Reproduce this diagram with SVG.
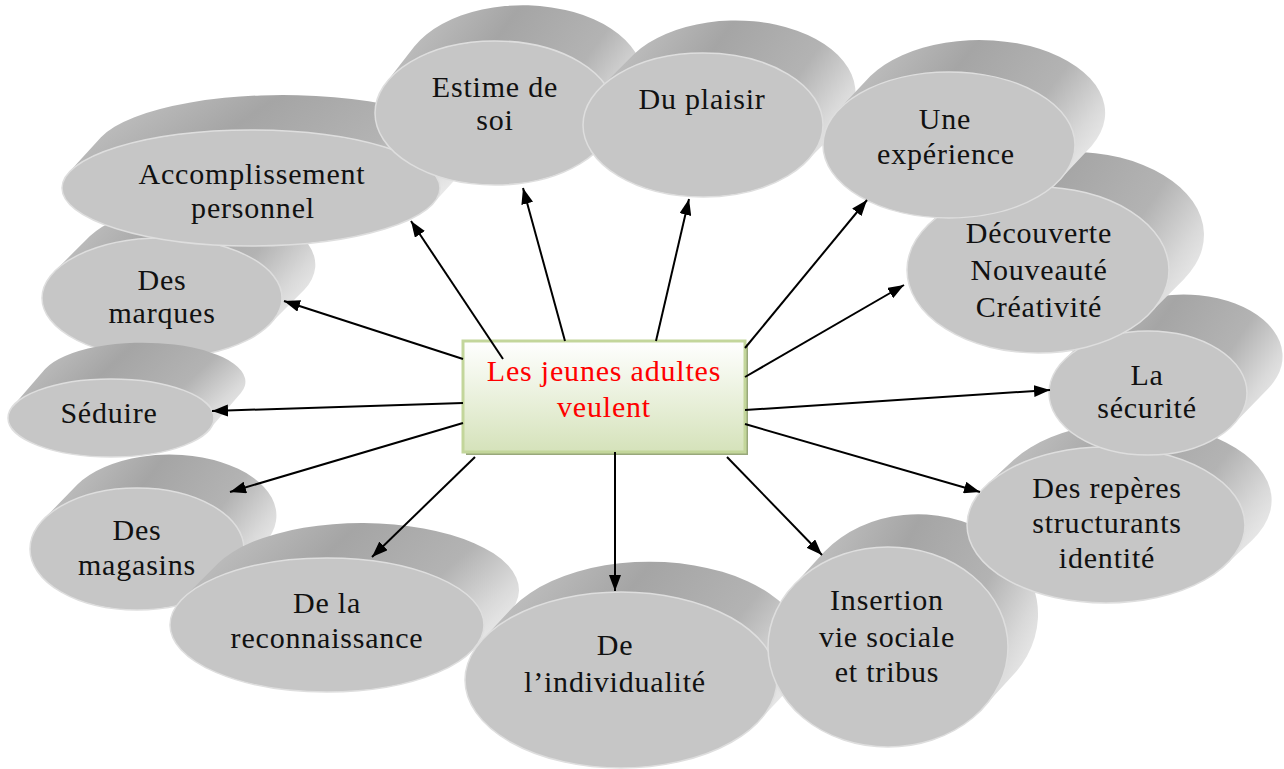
<svg xmlns="http://www.w3.org/2000/svg" width="1284" height="769" viewBox="0 0 1284 769">
<defs>
<linearGradient id="side" x1="0" y1="0.3" x2="1" y2="0.7">
<stop offset="0" stop-color="#c2c2c2"/>
<stop offset="0.35" stop-color="#a5a5a5"/>
<stop offset="0.7" stop-color="#b3b3b3"/>
<stop offset="0.9" stop-color="#d9d9d9"/>
<stop offset="1" stop-color="#e8e8e8"/>
</linearGradient>
<linearGradient id="boxg" x1="0" y1="0" x2="0" y2="1">
<stop offset="0" stop-color="#ffffff"/>
<stop offset="0.6" stop-color="#e6eed6"/>
<stop offset="1" stop-color="#d5e2ba"/>
</linearGradient>
<marker id="ah" viewBox="0 0 8 6" markerWidth="8" markerHeight="6" refX="8" refY="3" orient="auto" markerUnits="strokeWidth">
<path d="M0,0 L8,3 L0,6 Z" fill="#000"/>
</marker>
</defs>
<style>
.side{fill:url(#side);}
.front{fill:#c6c6c6;stroke:#dedede;stroke-width:1.5;}
.lbl{font-family:"Liberation Serif","DejaVu Serif",serif;font-size:30px;letter-spacing:0.8px;fill:#111;text-anchor:middle;}
.ctr{font-family:"Liberation Serif","DejaVu Serif",serif;font-size:30px;letter-spacing:0.8px;fill:#ff0000;text-anchor:middle;}
.conn{stroke:#000;stroke-width:2;fill:none;marker-end:url(#ah);}
</style>
<rect width="1284" height="769" fill="#ffffff"/>

<g id="node-marques">
<path class="side" d="M54.7,271.2 L89.7,236.2 A120,60 0 0 1 304.3,289.8 L269.3,324.8 A120,60 0 0 0 54.7,271.2 Z"/>
<ellipse class="front" cx="162" cy="298" rx="120" ry="60"/>
<text class="lbl" x="162" y="290">Des</text>
<text class="lbl" x="162" y="323">marques</text>
</g>

<g id="node-seduire">
<path class="side" d="M13.1,405.9 L45.1,368.9 A103,39 0 0 1 240.9,393.1 L208.9,430.1 A103,39 0 0 0 13.1,405.9 Z"/>
<ellipse class="front" cx="111" cy="418" rx="103" ry="39"/>
<text class="lbl" x="109" y="423">Séduire</text>
</g>

<g id="node-magasins">
<path class="side" d="M43.4,519.5 L77.4,484.5 A107,61 0 0 1 264.6,543.5 L230.6,578.5 A107,61 0 0 0 43.4,519.5 Z"/>
<ellipse class="front" cx="137" cy="549" rx="107" ry="61"/>
<text class="lbl" x="137" y="540">Des</text>
<text class="lbl" x="137" y="575">magasins</text>
</g>

<g id="node-reconnaissance">
<path class="side" d="M182.6,598.7 L217.6,563.7 A157,67 0 0 1 506.4,616.3 L471.4,651.3 A157,67 0 0 0 182.6,598.7 Z"/>
<ellipse class="front" cx="327" cy="625" rx="157" ry="67"/>
<text class="lbl" x="327" y="613">De la</text>
<text class="lbl" x="327" y="648">reconnaissance</text>
</g>

<g id="node-individualite">
<path class="side" d="M483.1,638.9 L513.1,606.9 A156,88 0 0 1 788.9,689.1 L758.9,721.1 A156,88 0 0 0 483.1,638.9 Z"/>
<ellipse class="front" cx="621" cy="680" rx="156" ry="88"/>
<text class="lbl" x="615" y="655">De</text>
<text class="lbl" x="615" y="692">l’individualité</text>
</g>

<g id="node-insertion">
<path class="side" d="M792.6,586.4 L824.6,551.4 A120,100 0 0 1 1015.4,672.6 L983.4,707.6 A120,100 0 0 0 792.6,586.4 Z"/>
<ellipse class="front" cx="888" cy="647" rx="120" ry="100"/>
<text class="lbl" x="887" y="610">Insertion</text>
<text class="lbl" x="887" y="647">vie sociale</text>
<text class="lbl" x="887" y="682">et tribus</text>
</g>

<g id="node-reperes">
<path class="side" d="M987.1,484.6 L1014.1,459.6 A139,78 0 0 1 1251.9,540.4 L1224.9,565.4 A139,78 0 0 0 987.1,484.6 Z"/>
<ellipse class="front" cx="1106" cy="525" rx="139" ry="78"/>
<text class="lbl" x="1107" y="498">Des repères</text>
<text class="lbl" x="1107" y="533">structurants</text>
<text class="lbl" x="1107" y="568">identité</text>
</g>

<g id="node-securite">
<path class="side" d="M1063.5,360.7 L1099.5,323.7 A99,62 0 0 1 1268.5,388.3 L1232.5,425.3 A99,62 0 0 0 1063.5,360.7 Z"/>
<ellipse class="front" cx="1148" cy="393" rx="99" ry="62"/>
<text class="lbl" x="1147" y="385">La</text>
<text class="lbl" x="1147" y="418">sécurité</text>
</g>

<g id="node-decouverte">
<path class="side" d="M927.3,225.6 L962.3,190.6 A131,83 0 0 1 1183.7,279.4 L1148.7,314.4 A131,83 0 0 0 927.3,225.6 Z"/>
<ellipse class="front" cx="1038" cy="270" rx="131" ry="83"/>
<text class="lbl" x="1039" y="243">Découverte</text>
<text class="lbl" x="1039" y="280">Nouveauté</text>
<text class="lbl" x="1039" y="317">Créativité</text>
</g>

<g id="node-accomplissement">
<path class="side" d="M69,172.3 L101,137.3 A189,58 0 0 1 465,168.7 L433,203.7 A189,58 0 0 0 69,172.3 Z"/>
<ellipse class="front" cx="251" cy="188" rx="189" ry="58"/>
<text class="lbl" x="252" y="184">Accomplissement</text>
<text class="lbl" x="253" y="218">personnel</text>
</g>

<g id="node-estime">
<path class="side" d="M386.3,82.5 L414.3,46.5 A120,72 0 0 1 631.7,107.5 L603.7,143.5 A120,72 0 0 0 386.3,82.5 Z"/>
<ellipse class="front" cx="495" cy="113" rx="120" ry="72"/>
<text class="lbl" x="495" y="97">Estime de</text>
<text class="lbl" x="495" y="130">soi</text>
</g>

<g id="node-plaisir">
<path class="side" d="M600.1,88 L634.1,54 A120,72 0 0 1 839.9,128 L805.9,162 A120,72 0 0 0 600.1,88 Z"/>
<ellipse class="front" cx="703" cy="125" rx="120" ry="72"/>
<text class="lbl" x="702" y="109">Du plaisir</text>
</g>

<g id="node-experience">
<path class="side" d="M838.4,110.1 L870.4,76.1 A126,73 0 0 1 1091.6,145.9 L1059.6,179.9 A126,73 0 0 0 838.4,110.1 Z"/>
<ellipse class="front" cx="949" cy="145" rx="126" ry="73"/>
<text class="lbl" x="945" y="129">Une</text>
<text class="lbl" x="946" y="164">expérience</text>
</g>

<g id="node-center">
<rect x="466" y="344" width="282" height="111" fill="#98a87b"/>
<rect x="463" y="341" width="282" height="111" fill="url(#boxg)" stroke="#c3d69b" stroke-width="3"/>
<text class="ctr" x="604" y="381">Les jeunes adultes</text>
<text class="ctr" x="604" y="417">veulent</text>
</g>

<g id="connectors">
<line class="conn" x1="503" y1="359" x2="411" y2="221"/>
<line class="conn" x1="565" y1="341" x2="523" y2="188"/>
<line class="conn" x1="656" y1="341" x2="689" y2="199"/>
<line class="conn" x1="745" y1="348" x2="867" y2="200"/>
<line class="conn" x1="745" y1="377" x2="904" y2="285"/>
<line class="conn" x1="745" y1="410" x2="1050" y2="390"/>
<line class="conn" x1="745" y1="424" x2="980" y2="492"/>
<line class="conn" x1="727" y1="457" x2="822" y2="555"/>
<line class="conn" x1="615" y1="452" x2="615" y2="591"/>
<line class="conn" x1="475" y1="457" x2="372" y2="557"/>
<line class="conn" x1="463" y1="423" x2="230" y2="492"/>
<line class="conn" x1="463" y1="403" x2="212" y2="411"/>
<line class="conn" x1="463" y1="359" x2="284" y2="301"/>
</g>
</svg>
